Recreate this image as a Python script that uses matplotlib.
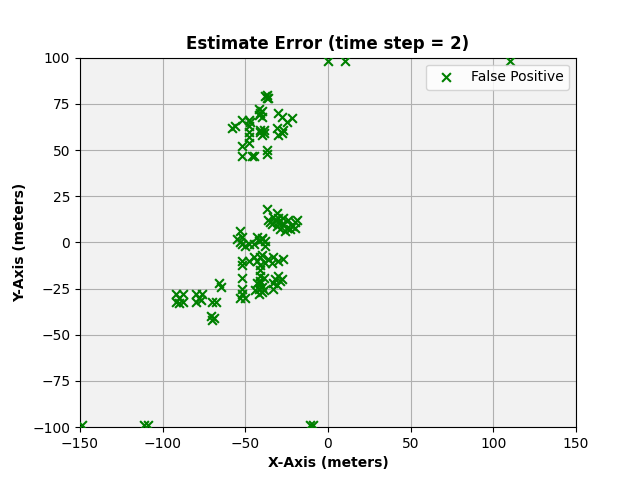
import matplotlib
matplotlib.use("Agg")
import matplotlib.pyplot as plt

title = "Estimate Error (time step = 2)"
legend_label = "False Positive"

fp_x = [
    # top-edge
    0, 10.5, 110,
    # bottom-edge
    -149, -111, -109, -11, -9,
    # top cluster
    -38, -37, -36, -37,
    -42, -41, -40, -42, -40,
    -30, -28, -22, -25,
    -58, -56, -52, -48, -48, -48, -48, -47, -48,
    -41, -39, -40, -41, -39,
    -31, -28, -30, -27,
    -52, -52, -46, -45, -37, -37,
    # middle upper cluster
    -37, -31, -19,
    -36, -33, -30, -27, -24, -20, -34, -31, -28, -25, -22, -20, -29, -32, -26, -23, -35, -30,
    -40, -43, -53, -52, -53, -50, -55, -52, -40, -42, -38, -45, -38, -48,
    # middle lower cluster
    -52, -52, -52, -52, -52, -50, -53,
    -44, -42, -40, -42, -39, -43,
    -41, -41, -41, -41, -41, -40, -43, -39,
    -45, -40, -36, -33, -30, -27, -38, -34, -48,
    -30, -28, -32, -33, -29, -41, -33, -31,
    # lower left cluster
    -92, -90, -88, -92, -88, -90,
    -80, -78, -76, -80, -77,
    -70, -68, -71, -69, -70, -66, -65,
]
fp_y = [
    # top-edge
    98, 98, 98,
    # bottom-edge
    -99, -99, -99, -99, -99,
    # top cluster
    79, 80, 78, 78,
    72, 70, 71, 69, 68,
    70, 68, 67.5, 65,
    62, 63, 66, 66, 63, 60, 57, 65, 54,
    61, 59, 58, 60, 61,
    62, 59, 58, 61,
    52, 47, 47, 47, 50, 48,
    # middle upper cluster
    18, 16, 12,
    12, 14, 13, 13, 12, 11, 10, 9, 10, 8, 9, 8, 7, 12, 6, 7, 11, 11,
    2.5, 3, 6, 3, 0, -2, 2, -1, 2, 1, 1, -1, -2, -1,
    # middle lower cluster
    -10, -12, -19, -25, -28, -30, -30,
    -26, -28, -27, -25, -26, -22,
    -8, -12, -15, -18, -21, -24, -10, -19,
    -8, -7, -9, -8, -10, -9, -11, -11, -10,
    -18, -20, -20, -22, -21, -22, -25, -23,
    # lower left cluster
    -28, -30, -28, -32, -32, -33,
    -28, -30, -28, -32, -31,
    -32, -32, -40, -41, -42, -22, -24,
]

fig, ax = plt.subplots(figsize=(6.4, 4.8), dpi=100)
ax.set_facecolor("#f2f2f2")
ax.scatter(fp_x, fp_y, marker="x", color="green", s=40, label=legend_label, zorder=3)
ax.set_xlim(-150, 150)
ax.set_ylim(-100, 100)
ax.set_xticks(range(-150, 151, 50))
ax.set_yticks(range(-100, 101, 25))
ax.grid(True, color="#b0b0b0", linewidth=0.8)
ax.set_axisbelow(True)
ax.set_title(title, fontweight="bold")
ax.set_xlabel("X-Axis (meters)", fontweight="bold")
ax.set_ylabel("Y-Axis (meters)", fontweight="bold")
ax.legend(loc="upper right")
fig.savefig("out.png", dpi=100)
